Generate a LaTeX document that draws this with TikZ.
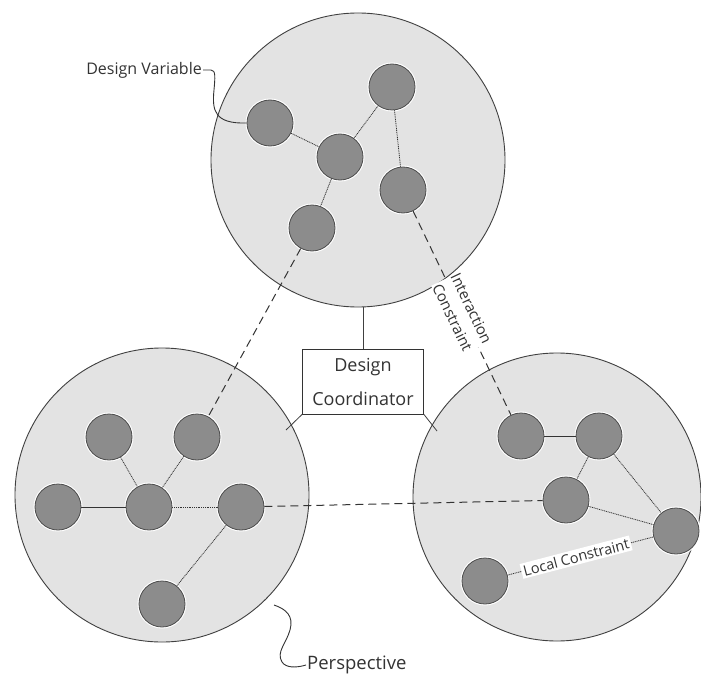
\documentclass[tikz,border=0pt]{standalone}
\usepackage{fontspec}
\setmainfont{Open Sans}
\begin{document}
\begin{tikzpicture}[x=1pt,y=-1pt,
  persp/.style={circle, draw=black!75, line width=0.9pt, fill=black!11, minimum size=#1, inner sep=0pt},
  dvar/.style={circle, draw=black!70, line width=0.8pt, fill=black!45, minimum size=46pt, inner sep=0pt,
               preaction={draw=white, line width=3pt}},
  lcon/.style={draw=black!80, line width=0.8pt, dash pattern=on 1pt off 0.8pt},
  lconsolid/.style={draw=black!80, line width=0.7pt},
  icon/.style={draw=black!80, line width=1pt, dash pattern=on 8pt off 5pt},
  clink/.style={draw=black!75, line width=0.8pt},
  tag/.style={text=black!80, inner sep=1pt}
]
\useasboundingbox (0,0) rectangle (701,682);
\fill[white] (0,0) rectangle (701,682);

% the three perspectives
\node[persp=294pt] (top) at (358,160) {};
\node[persp=294pt] (left) at (162,495) {};
\node[persp=288pt] (right) at (557,497) {};

% design coordinator and its links
\node[draw=black!80, line width=0.8pt, fill=white, minimum width=121pt, minimum height=65pt,
      align=center, font=\fontsize{18}{34}\selectfont, text=black!80, inner sep=0pt] (coord) at (363,381.5)
      {Design\\Coordinator};
\coordinate (ct) at (363,307);
\coordinate (cl) at (286,430);
\coordinate (cr) at (437,431);
\draw[clink] (coord.north) -- (ct);
\draw[clink] (coord.south west) -- (cl);
\draw[clink] (coord.south east) -- (cr);

% design variables, top perspective
\node[dvar] (t1) at (270,123) {};
\node[dvar] (t2) at (340,157) {};
\node[dvar] (t3) at (392,87) {};
\node[dvar] (t4) at (403,190) {};
\node[dvar] (t5) at (312,228) {};

% design variables, left perspective
\node[dvar] (l1) at (109,437) {};
\node[dvar] (l2) at (197,437) {};
\node[dvar] (l3) at (58,507) {};
\node[dvar] (l4) at (149,507) {};
\node[dvar] (l5) at (241,507) {};
\node[dvar] (l6) at (162,604) {};

% design variables, right perspective
\node[dvar] (r1) at (521,436) {};
\node[dvar] (r2) at (599,436) {};
\node[dvar] (r3) at (566,500) {};
\node[dvar] (r4) at (676,531) {};
\node[dvar] (r5) at (485,581) {};

% local constraints
\draw[lcon] (t1) -- (t2);
\draw[lcon] (t2) -- (t3);
\draw[lcon] (t2) -- (t5);
\draw[lcon] (t3) -- (t4);

\draw[lcon] (l1) -- (l4);
\draw[lcon] (l2) -- (l4);
\draw[lconsolid] (l3) -- (l4);
\draw[lcon] (l4) -- (l5);
\draw[lcon] (l5) -- (l6);

\draw[lconsolid] (r1) -- (r2);
\draw[lcon] (r2) -- (r3);
\draw[lcon] (r2) -- (r4);
\draw[lcon] (r3) -- (r4);
\draw[lcon] (r5) -- node[pos=0.47, sloped, fill=white, tag, font=\fontsize{14.5}{16}\selectfont, inner sep=2pt] {Local Constraint} (r4);

% interaction constraints
\draw[icon] (t5) -- (l2);
\draw[icon] (l5) -- (r3);
\draw[icon] (t4) -- node[pos=0.5, sloped, fill=white, tag, align=center, inner sep=0pt,
      font=\fontsize{15}{21}\selectfont] {Interaction\\Constraint} (r1);

% callouts
\node[tag, anchor=east, font=\fontsize{16}{18}\selectfont] (dv) at (203,70) {Design Variable};
\draw[black!80, line width=0.9pt] (dv.east) -- (211,70)
  .. controls (216,70) and (215,78) .. (214,90)
  .. controls (212,110) and (214,124) .. (t1.west);
\node[tag, anchor=west, font=\fontsize{18.5}{20}\selectfont] (pv) at (306,665) {Perspective};
\coordinate (pp) at (274,605);
\draw[black!80, line width=0.9pt] (pp)
  .. controls (286,609) and (294,616) .. (290,630)
  .. controls (286,644) and (276,652) .. (282,662)
  .. controls (286,668) and (296,668) .. (pv.west);
\end{tikzpicture}
\end{document}
